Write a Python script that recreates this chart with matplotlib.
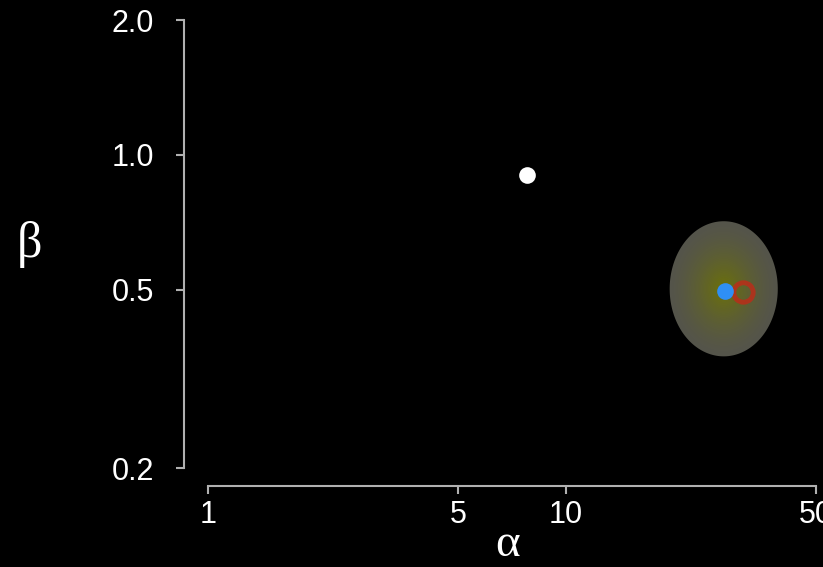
import numpy as np
import matplotlib
matplotlib.use("Agg")
import matplotlib.pyplot as plt
from matplotlib.ticker import FixedLocator, NullLocator

# data
x_ticks = [1, 5, 10, 50]
x_tick_labels = ["1", "5", "10", "50"]
y_ticks = [0.2, 0.5, 1.0, 2.0]
y_tick_labels = ["0.2", "0.5", "1.0", "2.0"]

white_pt = (7.8, 0.90)
blue_pt = (27.8, 0.497)
red_pt = (31.2, 0.494)

# ellipse bounds (alpha range, beta range)
ell_alpha = (19.5, 39.1)
ell_beta = (0.355, 0.711)

fig = plt.figure(figsize=(8.23, 5.67), dpi=100, facecolor="black")
ax = fig.add_axes([208 / 823, 99 / 567, 608 / 823, 448 / 567])
ax.set_facecolor("black")
ax.set_xscale("log")
ax.set_yscale("log")
ax.set_xlim(1, 50)
ax.set_ylim(0.2, 2.0)

# gradient ellipse built in log space
cx = np.mean(np.log10(ell_alpha))
cy = np.mean(np.log10(ell_beta))
rx = np.diff(np.log10(ell_alpha))[0] / 2
ry = np.diff(np.log10(ell_beta))[0] / 2
t = np.linspace(0, 2 * np.pi, 200)
outer = np.array([0.33, 0.33, 0.29])
inner = np.array([0.42, 0.44, 0.04])
n = 40
for i in range(n):
    s = 1 - i / n
    f = (i / (n - 1)) ** 1.5
    col = outer * (1 - f) + inner * f
    ax.fill(10 ** (cx + s * rx * np.cos(t)), 10 ** (cy + s * ry * np.sin(t)),
            color=col, lw=0, zorder=1)

ax.plot(*white_pt, "o", color="white", ms=12, mew=0, zorder=3)
ax.plot(*red_pt, "o", mfc="none", mec="#c02a18", ms=14, mew=3.5, alpha=0.8, zorder=3)
ax.plot(*blue_pt, "o", color="#2f8ff5", ms=12, mew=0, zorder=4)

for s in ["top", "right"]:
    ax.spines[s].set_visible(False)
ax.spines["left"].set_position(("outward", 17))
ax.spines["bottom"].set_position(("outward", 13))
ax.spines["left"].set_bounds(0.2, 2.0)
ax.spines["bottom"].set_bounds(1, 50)
for s in ["left", "bottom"]:
    ax.spines[s].set_color("#b0b0b0")
    ax.spines[s].set_linewidth(1.5)

ax.xaxis.set_major_locator(FixedLocator(x_ticks))
ax.xaxis.set_minor_locator(NullLocator())
ax.set_xticklabels(x_tick_labels)
ax.yaxis.set_major_locator(FixedLocator(y_ticks))
ax.yaxis.set_minor_locator(NullLocator())
ax.set_yticklabels(y_tick_labels)
ax.tick_params(colors="#b0b0b0", labelcolor="white", labelsize=22, length=6,
               width=1.5)
ax.tick_params(axis="y", pad=16)
ax.tick_params(axis="x", pad=4)
for lab in ax.get_xticklabels() + ax.get_yticklabels():
    lab.set_family("Liberation Sans")

fig.text(508 / 823, 1 - 556 / 567, "α", color="white", fontsize=34,
         family="Liberation Serif", ha="center", va="baseline")
fig.text(30 / 823, 1 - 244 / 567, "β", color="white", fontsize=36,
         family="Liberation Serif", ha="center", va="center")

fig.savefig("out.png", dpi=100, facecolor="black")
